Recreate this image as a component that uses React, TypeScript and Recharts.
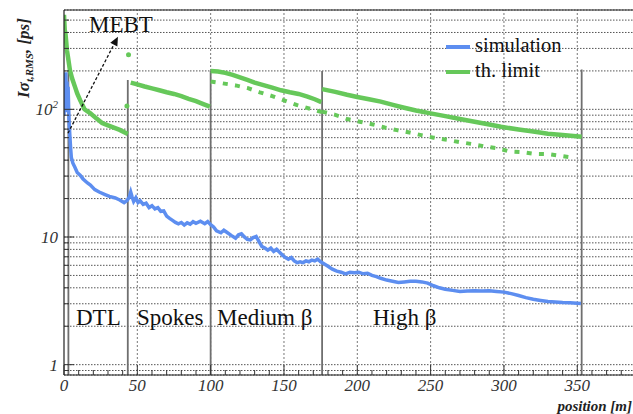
import React from 'react';
import {
  ComposedChart,
  Line,
  Scatter,
  XAxis,
  YAxis,
  CartesianGrid,
  ReferenceLine,
  Legend,
} from 'recharts';

const FONT = 'Liberation Serif, Times New Roman, Times, DejaVu Serif, serif';
const BLUE = '#5d8ef0';
const GREEN = '#66c85a';

// ---- simulation (blue) ----
const simPos = [
  0, 0.4, 0.8, 1.2, 1.6, 2.0, 2.4, 2.8, 3.2, 3.6, 4, 4.5, 5, 6, 7.5, 9, 11, 13, 16, 18, 21, 24, 28, 31, 35, 38, 41, 43,
  44.5, 45.5, 46.5, 47.5, 49, 50.5, 52, 54, 56, 58, 60, 62, 64, 66, 68, 70, 72, 74, 76, 78, 80, 82, 84, 86, 88, 90, 93,
  96, 98, 100, 102, 104, 107, 109, 111, 114, 117, 119, 121, 123, 125, 127, 129, 131, 133, 135, 137, 139, 141, 143, 145,
  147, 149, 151, 153, 155, 157, 159, 161, 163, 165, 167, 169, 171, 173, 175, 177, 180, 183, 186, 189, 192, 195, 198, 201,
  204, 207, 210, 213, 216, 220, 224, 228, 232, 236, 240, 244, 248, 252, 256, 260, 265, 270, 275, 280, 285, 290, 295, 300,
  305, 310, 315, 320, 325, 330, 335, 340, 345, 350, 352.5,
];
const simVal = [
  90, 175, 110, 195, 95, 165, 120, 150, 100, 75, 62, 50, 42, 38, 35, 32, 30.5, 28.5, 26.5, 25.5, 23.5, 22.5, 21.5, 20.8,
  20.2, 19.5, 18.6, 19.3, 20.5, 22.5, 20.5, 19.0, 20.3, 18.6, 19.2, 18.0, 18.4, 17.0, 17.6, 16.6, 17.0, 15.9, 16.0, 14.6,
  14.0, 13.5, 13.0, 12.7, 13.0, 12.4, 12.9, 12.6, 13.2, 12.8, 13.3, 12.7, 13.2, 12.5, 12.0, 11.2, 10.8, 11.3, 10.9, 10.3,
  9.8, 10.4, 10.6, 10.0, 9.6, 9.5, 9.9, 10.1, 9.2, 8.4, 8.2, 7.9, 8.2, 7.7, 8.0, 7.6, 7.2, 6.9, 6.7, 6.9, 6.5, 6.3, 6.4,
  6.3, 6.5, 6.4, 6.6, 6.5, 6.7, 6.4, 6.2, 5.9, 5.6, 5.4, 5.3, 5.15, 5.3, 5.25, 5.3, 5.15, 5.2, 5.0, 4.9, 4.75, 4.6, 4.5,
  4.4, 4.45, 4.5, 4.5, 4.45, 4.35, 4.15, 4.0, 3.9, 3.82, 3.75, 3.78, 3.8, 3.78, 3.8, 3.75, 3.7, 3.6, 3.48, 3.35, 3.25,
  3.18, 3.12, 3.1, 3.07, 3.05, 3.03, 3.02,
];

// ---- theoretical limit (green) ----
const dtlPos = [0, 0.5, 1, 1.5, 2, 2.7, 4, 5.5, 7.5, 9, 11, 14, 18, 22, 26, 30, 34, 38, 43.5];
const dtlVal = [550, 420, 390, 340, 290, 258, 204, 175, 150, 133, 118, 100, 93, 85, 78, 75, 72, 69, 64];

const spokesPos = [45.5, 50, 55, 60, 65, 70, 75, 80, 85, 90, 95, 99.5];
const spokesVal = [162, 157, 151, 146, 141, 136, 132, 127, 121, 116, 110, 105];

const mediumPos = [100, 105, 110, 115, 120, 125, 130, 136, 142, 148, 154, 160, 166, 171, 175.5];
const mediumVal = [200, 198, 193, 186, 178, 170, 162, 155, 148, 141, 136, 132, 126, 120, 114];

const mediumDotPos = [100, 108, 117, 125, 133.5, 142, 150.6, 159, 167.7, 176];
const mediumDotVal = [165, 160, 154, 147, 136, 127, 117, 108, 101, 95];

const highPos = [176, 185, 193, 200, 208, 216, 225, 232, 240, 250, 260, 270, 280, 290, 298, 310, 320, 330, 340, 353];
const highVal = [144, 137, 130, 125, 120, 115, 108, 103, 98, 93, 88.5, 84, 80, 76, 73, 69.5, 67, 64.5, 63, 61];

const highDotPos = [
  176, 185, 193, 201.6, 210, 218.7, 227, 235.6, 244.5, 252, 261.6, 270, 278.7, 287, 295.7, 304, 312.8, 321, 330, 338, 347,
];
const highDotVal = [
  96, 90.5, 84, 80, 76.5, 72, 68.7, 65.8, 62.5, 60, 57.6, 55.3, 53.4, 51.2, 49.6, 46.7, 46.2, 44.8, 44.6, 43.3, 41.9,
];

const strayPos = [44, 42.9];
const strayVal = [268, 106];

// ---- section boundaries ----
const boundaryPos = [3, 43.5, 100, 176, 353];
const boundaryTop = [200, 170, 200, 200, 205];

// MEBT arrow (from, to)
const arrowPos = [2.7, 36.8];
const arrowVal = [65, 371];

// ---- axes ----
const Y_MIN = 0.83;
const Y_MAX = 600;
const X_MAX = 388;
const yMajor = [1, 10, 100];
const yTicks = [0.9, 1, 2, 3, 4, 5, 6, 7, 8, 9, 10, 20, 30, 40, 50, 60, 70, 80, 90, 100, 200, 300, 400, 500];
const xTicks = Array.from({ length: 39 }, (_, i) => i * 10);
const xLabels = [0, 50, 100, 150, 200, 250, 300, 350];
const xGrid = [50, 100, 150, 200, 250, 300, 350];

const legendItems = [
  { name: 'simulation', color: BLUE },
  { name: 'th. limit', color: GREEN },
];

const toPts = (p: number[], v: number[]) => p.map((x, i) => ({ x, y: v[i] }));

const simData = toPts(simPos, simVal);
const dtlData = toPts(dtlPos, dtlVal);
const spokesData = toPts(spokesPos, spokesVal);
const mediumData = toPts(mediumPos, mediumVal);
const mediumDotData = toPts(mediumDotPos, mediumDotVal);
const highData = toPts(highPos, highVal);
const highDotData = toPts(highDotPos, highDotVal);
const strayData = toPts(strayPos, strayVal);

const YTick = (props: any) => {
  const { x, y, payload } = props;
  const v = payload.value;
  const major = yMajor.includes(v);
  return (
    <g>
      <line x1={x} x2={x + (major ? 10 : 5)} y1={y} y2={y} stroke="#333" strokeWidth={1} />
      {major && (
        <text
          x={x - 6}
          y={y + 6}
          textAnchor="end"
          style={{ fontFamily: FONT, fontStyle: 'italic', fontSize: 17 }}
          fill="#333"
        >
          {v === 100 ? (
            <>
              10
              <tspan dy={-7} style={{ fontSize: 11 }}>
                2
              </tspan>
            </>
          ) : (
            String(v)
          )}
        </text>
      )}
    </g>
  );
};

const XTick = (props: any) => {
  const { x, y, payload } = props;
  const v = payload.value;
  const major = xLabels.includes(v);
  return (
    <g>
      <line x1={x} x2={x} y1={y} y2={y - (major ? 10 : 5)} stroke="#333" strokeWidth={1} />
      {major && (
        <text
          x={x}
          y={y + 16}
          textAnchor="middle"
          style={{ fontFamily: FONT, fontStyle: 'italic', fontSize: 17 }}
          fill="#333"
        >
          {v}
        </text>
      )}
    </g>
  );
};

const ArrowShape = (props: any) => {
  const { x1, y1, x2, y2 } = props;
  if ([x1, y1, x2, y2].some((n) => typeof n !== 'number' || isNaN(n))) return <g />;
  const ang = Math.atan2(y2 - y1, x2 - x1);
  const L = 9;
  const w = 4;
  const bx = x2 - L * Math.cos(ang);
  const by = y2 - L * Math.sin(ang);
  const px = -Math.sin(ang) * w;
  const py = Math.cos(ang) * w;
  return (
    <g>
      <line x1={x1} y1={y1} x2={bx} y2={by} stroke="#111" strokeWidth={1.3} strokeDasharray="3 2" />
      <polygon points={`${x2},${y2} ${bx + px},${by + py} ${bx - px},${by - py}`} fill="#111" />
    </g>
  );
};

const renderLegend = () => (
  <div style={{ fontFamily: FONT, fontSize: 20.5, color: '#111' }}>
    {legendItems.map((it) => (
      <div key={it.name} style={{ display: 'flex', alignItems: 'center', height: 25 }}>
        <div style={{ width: 24, height: 4, background: it.color, marginRight: 5, position: 'relative', top: 1 }} />
        <span style={{ lineHeight: '25px' }}>{it.name}</span>
      </div>
    ))}
  </div>
);

const labelStyle: React.CSSProperties = { fontFamily: FONT, fontSize: 23 };

export default function App() {
  return (
    <div style={{ position: 'absolute', left: 0, top: 0, width: 633, height: 414, overflow: 'hidden', background: '#fff', fontFamily: FONT }}>
      <ComposedChart width={633} height={414} margin={{ top: 10, right: 0, bottom: 0, left: 0 }}>
        <CartesianGrid vertical={false} stroke="#555" strokeDasharray="1.5 1.5" />
        <XAxis
          dataKey="x"
          type="number"
          domain={[0, X_MAX]}
          allowDataOverflow
          ticks={xTicks}
          interval={0}
          height={39}
          tick={<XTick />}
          tickLine={false}
          tickSize={0}
          tickMargin={0}
          axisLine={{ stroke: '#222', strokeWidth: 1.2 }}
        />
        <YAxis
          type="number"
          scale="log"
          domain={[Y_MIN, Y_MAX]}
          allowDataOverflow
          ticks={yTicks}
          interval={0}
          width={64}
          tick={<YTick />}
          tickLine={false}
          tickSize={0}
          tickMargin={0}
          axisLine={{ stroke: '#222', strokeWidth: 1.2 }}
        />
        {xGrid.map((v) => (
          <ReferenceLine key={'g' + v} x={v} stroke="#777" strokeDasharray="2 2" strokeWidth={1} />
        ))}
        <ReferenceLine y={Y_MAX} stroke="#222" strokeWidth={1.2} />
        {boundaryPos.map((p, i) => (
          <ReferenceLine
            key={'b' + p}
            segment={[
              { x: p, y: Y_MIN },
              { x: p, y: boundaryTop[i] },
            ]}
            stroke="#6f6f6f"
            strokeWidth={1.8}
          />
        ))}
        <Line data={dtlData} dataKey="y" stroke={GREEN} strokeWidth={4.5} dot={false} isAnimationActive={false} legendType="none" />
        <Line data={spokesData} dataKey="y" stroke={GREEN} strokeWidth={4.5} dot={false} isAnimationActive={false} legendType="none" />
        <Line data={mediumData} dataKey="y" stroke={GREEN} strokeWidth={4.5} dot={false} isAnimationActive={false} legendType="none" />
        <Line data={highData} dataKey="y" stroke={GREEN} strokeWidth={4.5} dot={false} isAnimationActive={false} legendType="none" />
        <Line
          data={mediumDotData}
          dataKey="y"
          stroke={GREEN}
          strokeWidth={4}
          strokeDasharray="5 7.3"
          dot={false}
          isAnimationActive={false}
          legendType="none"
        />
        <Line
          data={highDotData}
          dataKey="y"
          stroke={GREEN}
          strokeWidth={4}
          strokeDasharray="5 7.3"
          dot={false}
          isAnimationActive={false}
          legendType="none"
        />
        <Scatter
          data={strayData}
          dataKey="y"
          fill={GREEN}
          isAnimationActive={false}
          legendType="none"
          shape={(p: any) => <circle cx={p.cx} cy={p.cy} r={2.5} fill={GREEN} />}
        />
        <Line data={simData} dataKey="y" stroke={BLUE} strokeWidth={3.5} dot={false} isAnimationActive={false} legendType="none" />
        <ReferenceLine
          segment={[
            { x: arrowPos[0], y: arrowVal[0] },
            { x: arrowPos[1], y: arrowVal[1] },
          ]}
          ifOverflow="visible"
          shape={<ArrowShape />}
        />
        <Legend
          layout="vertical"
          align="center"
          verticalAlign="middle"
          content={renderLegend}
          wrapperStyle={{ position: 'absolute', left: 446, top: 33, width: 'auto' }}
        />
      </ComposedChart>
      <svg width={633} height={414} style={{ position: 'absolute', left: 0, top: 0, pointerEvents: 'none' }}>
        <text x={89} y={32} style={labelStyle} fill="#111">MEBT</text>
        <text x={76} y={325} style={labelStyle} fill="#111">DTL</text>
        <text x={137} y={325} style={labelStyle} fill="#111">Spokes</text>
        <text x={217} y={325} style={labelStyle} fill="#111">Medium β</text>
        <text x={373} y={325} style={labelStyle} fill="#111">High β</text>
        <text
          x={632}
          y={411}
          textAnchor="end"
          style={{ fontFamily: FONT, fontStyle: 'italic', fontWeight: 'bold', fontSize: 15 }}
          fill="#222"
        >
          position [m]
        </text>
        <text
          transform="translate(29, 58) rotate(-90)"
          textAnchor="middle"
          style={{ fontFamily: FONT, fontStyle: 'italic', fontWeight: 'bold', fontSize: 17 }}
          fill="#222"
        >
          Iσ
          <tspan dy={4} style={{ fontSize: 11 }}>
            t,RMS
          </tspan>
          <tspan dy={-4}>, [ps]</tspan>
        </text>
      </svg>
    </div>
  );
}
